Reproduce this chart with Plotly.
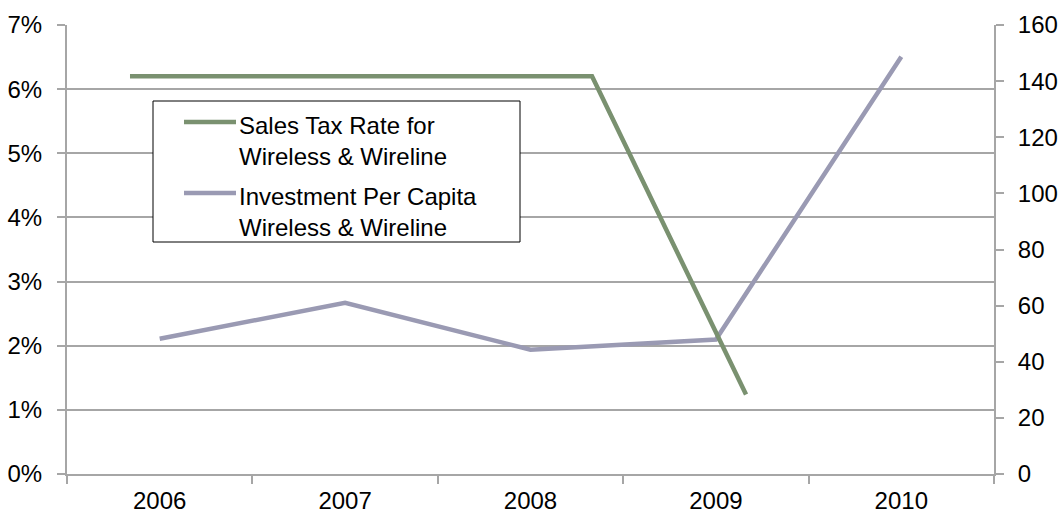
import plotly.graph_objects as go

years = ["2006", "2007", "2008", "2009", "2010"]
investment = [48.2, 61.0, 44.3, 47.9, 148.7]

tax_points = [0, 1, 2, 3, 4]
tax_rate = [6.2, 6.2, 6.2, 6.2, 1.24]

legend_labels = ["Sales Tax Rate for<br>Wireless & Wireline",
                 "Investment Per Capita<br>Wireless & Wireline"]

GREEN = "#7a9170"
PURPLE = "#9a9ab3"
GRID = "#a6a6a6"
FONT = "Liberation Sans, Arial, sans-serif"

W, H = 1060, 516
L, R, T, B = 67, 66, 25, 42
PW, PH = W - L - R, H - T - B


def px(x):
    return (x - L) / PW


def py(y):
    return (H - B - y) / PH


fig = go.Figure()
# investment on main xy (y axis drawn on right)
fig.add_trace(go.Scatter(
    x=years, y=investment, mode="lines", xaxis="x", yaxis="y",
    name=legend_labels[1], line=dict(color=PURPLE, width=4.5),
))
# tax rate on overlay x2y2 (y2 drawn on left)
fig.add_trace(go.Scatter(
    x=tax_points, y=tax_rate, mode="lines", xaxis="x2", yaxis="y2",
    name=legend_labels[0], line=dict(color=GREEN, width=4.5),
))

axis_common = dict(ticks="outside", ticklen=8, tickwidth=2, tickcolor=GRID,
                   showline=True, linecolor=GRID, linewidth=2, zeroline=False,
                   tickfont=dict(size=24), automargin=False)

fig.update_layout(
    width=W, height=H,
    margin=dict(l=L, r=R, t=T, b=B, autoexpand=False),
    paper_bgcolor="white", plot_bgcolor="white",
    font=dict(family=FONT, size=24, color="black"),
    showlegend=False,
    xaxis=dict(type="category", range=[-0.5, 4.5], tickson="boundaries",
               showgrid=False, ticklabelstandoff=4, **axis_common),
    xaxis2=dict(overlaying="x", range=[-0.409, 5.61], visible=False),
    yaxis=dict(range=[0, 160], dtick=20, side="right", showgrid=False,
               ticklabelstandoff=9, **axis_common),
    yaxis2=dict(range=[0, 7], dtick=1, ticksuffix="%", side="left",
                overlaying="y", showgrid=True, gridcolor=GRID, gridwidth=2,
                ticklabelstandoff=10, **axis_common),
)

# legend box drawn as layout decoration
fig.add_shape(type="rect", xref="paper", yref="paper",
              x0=px(153), x1=px(520), y0=py(242), y1=py(101),
              line=dict(color="black", width=1), fillcolor="white", layer="above")
for label, color, ly in [(legend_labels[0], GREEN, 122), (legend_labels[1], PURPLE, 193)]:
    fig.add_shape(type="line", xref="paper", yref="paper",
                  x0=px(184), x1=px(236), y0=py(ly), y1=py(ly),
                  line=dict(color=color, width=4.5), layer="above")
    fig.add_annotation(xref="paper", yref="paper", x=px(237), y=py(ly - 12),
                       xanchor="left", yanchor="top", align="left",
                       showarrow=False, text=label,
                       font=dict(family=FONT, size=24, color="black"))

fig.write_html("out.html")
